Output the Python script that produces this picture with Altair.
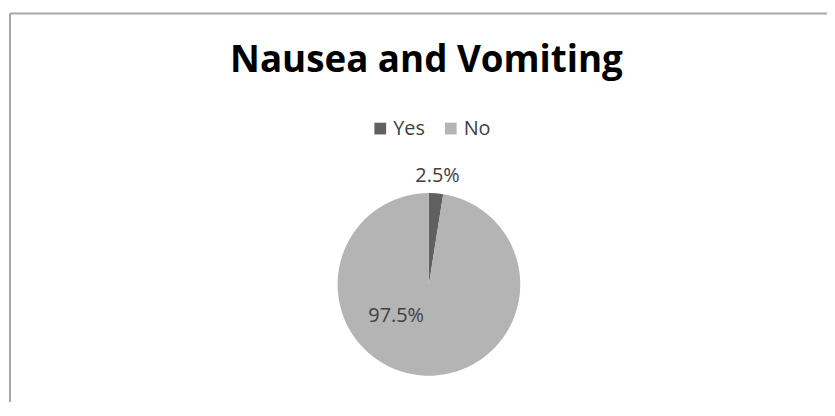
import altair as alt
import pandas as pd

categories = ["Yes", "No"]
values = [2.5, 97.5]
label_texts = ["2.5%", "97.5%"]
colors = ["#606060", "#b4b4b4"]

df = pd.DataFrame({
    "category": categories,
    "value": values,
    "label": label_texts,
    "order": list(range(len(categories))),
})

W, H = 823, 382
CX, CY = 422, 273
FONT = "Open Sans"

base = alt.Chart(df).encode(
    theta=alt.Theta("value:Q", stack=True),
    order=alt.Order("order:Q"),
)

color = alt.Color(
    "category:N",
    scale=alt.Scale(domain=categories, range=colors),
    sort=categories,
    legend=alt.Legend(
        title=None,
        orient="none",
        direction="horizontal",
        legendX=363,
        legendY=106,
        symbolType="square",
        symbolSize=140,
        symbolStrokeWidth=0,
        labelFont=FONT,
        labelFontSize=20,
        labelColor="#404040",
        labelOffset=3,
        columnPadding=16,
    ),
)

arcs = base.mark_arc(outerRadius=92, stroke=None).encode(
    color=color,
    x=alt.value(CX),
    y=alt.value(CY),
)

yes_label = base.mark_text(
    radius=110, font=FONT, fontSize=20, color="#404040"
).encode(
    text=alt.Text("label:N"),
    x=alt.value(CX),
    y=alt.value(CY),
    opacity=alt.condition(alt.datum.category == "Yes", alt.value(1), alt.value(0)),
)

no_label = alt.Chart(df).transform_filter(alt.datum.category == "No").mark_text(
    font=FONT, fontSize=20, color="#404040", dx=-33, dy=32
).encode(
    text=alt.Text("label:N"),
    x=alt.value(CX),
    y=alt.value(CY),
)

frame = alt.Data(values=[{"a": 1}])
top_rule = alt.Chart(frame).mark_rule(color="#a6a6a6", strokeWidth=2).encode(
    x=alt.value(0), x2=alt.value(W + 10), y=alt.value(0)
)
left_rule = alt.Chart(frame).mark_rule(color="#a6a6a6", strokeWidth=2).encode(
    x=alt.value(0), y=alt.value(0), y2=alt.value(H + 20)
)

chart = alt.layer(top_rule, left_rule, arcs, yes_label, no_label).properties(
    width=W,
    height=H,
    autosize=alt.AutoSizeParams(type="none"),
    padding={"left": 2, "top": 4, "right": 0, "bottom": 8},
    title=alt.TitleParams(
        "Nausea and Vomiting",
        font=FONT,
        fontSize=37,
        fontWeight="bold",
        color="#000000",
        anchor="middle",
        dx=8,
        dy=72,
    ),
).configure(background="#ffffff", view=alt.ViewConfig(stroke=None))

chart.save("out.html", embed_options={"renderer": "svg", "actions": False})
